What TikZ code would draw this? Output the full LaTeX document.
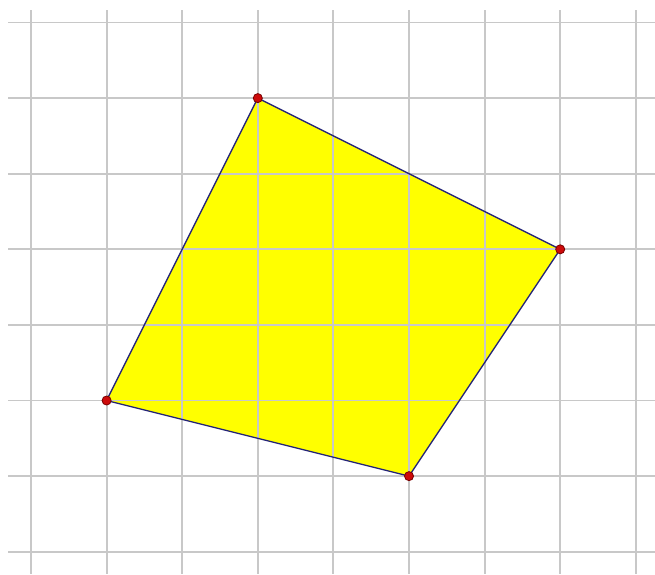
\documentclass[tikz,border=0pt]{standalone}
\usepackage{tikz}
\usetikzlibrary{positioning}
\usepackage{xcolor}
\definecolor{gridgray}{RGB}{200,200,200}
\definecolor{edgeblue}{RGB}{35,35,120}
\definecolor{dotred}{RGB}{205,10,10}
\definecolor{dotrim}{RGB}{120,0,0}
\definecolor{quadfill}{RGB}{255,255,0}

\begin{document}
\begin{tikzpicture}[
        gridline/.style={draw=gridgray, line width=0.7pt},
        edge/.style={draw=edgeblue, line width=0.5pt},
        pt/.style={circle, fill=dotred, draw=dotrim, line width=0.3pt, inner sep=0pt, minimum size=0.12cm}
    ]
        \useasboundingbox (-0.41,-7.295) rectangle (8.254,0.298);
        \fill[white] (-0.41,-7.295) rectangle (8.254,0.298);

        % corners of the quadrilateral
        \coordinate (a) at (3,-1);
        \coordinate (b) at (7,-3);
        \coordinate (c) at (5,-6);
        \coordinate (d) at (1,-5);

        \fill[quadfill] (a) -- (b) -- (c) -- (d) -- cycle;

        \foreach \x in {0,...,8}
            \draw[gridline] (\x,0.165) -- (\x,-7.295);
        \foreach \y in {0,...,7}
            \draw[gridline] (-0.304,-\y) -- (8.254,-\y);

        \draw[edge] (a) -- (b);
        \draw[edge] (b) -- (c);
        \draw[edge] (c) -- (d);
        \draw[edge] (d) -- (a);

        \node[pt] (pa) at (a) {};
        \node[pt] (pb) at (b) {};
        \node[pt] (pc) at (c) {};
        \node[pt] (pd) at (d) {};
    \end{tikzpicture}
\end{document}
